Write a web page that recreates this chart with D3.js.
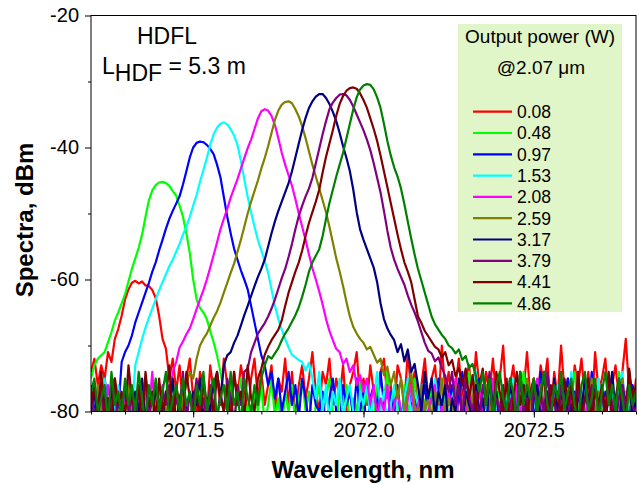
<!DOCTYPE html>
<html>
<head>
<meta charset="utf-8">
<script src="https://cdn.jsdelivr.net/npm/d3@7"></script>
<style>
  body { margin: 0; background: #fff; }
  svg { display: block; font-family: Arial, "Liberation Sans", sans-serif; }
</style>
</head>
<body>
<div id="area"></div>
<script>
const width = 639;
const height = 484;
const plot = { left: 91, right: 636, top: 15.5, bottom: 411.5 };

// wavelength grid of every spectrum: start and step, nm
const wlStart = 2071.2;
const wlStep = 0.01;

const xMajorTicks = [2071.5, 2072.0, 2072.5];
const xMinorTicks = [2071.2, 2071.3, 2071.4, 2071.5, 2071.6, 2071.7, 2071.8, 2071.9,
  2072.0, 2072.1, 2072.2, 2072.3, 2072.4, 2072.5, 2072.6, 2072.7, 2072.8];
const yMajorTicks = [-20, -40, -60, -80];
const yMinorTicks = [-30, -50, -70];

const powers = ["0.08", "0.48", "0.97", "1.53", "2.08", "2.59", "3.17", "3.79", "4.41", "4.86"];
const colors = ["#ff0000", "#00ff00", "#0000ff", "#00ffff", "#ff00ff",
  "#808000", "#000080", "#800080", "#800000", "#008000"];

// spectra, dBm, one value every 0.01 nm from 2071.20 to 2072.80
const spec008 = [
  -74, -72, -76, -73, -75, -71, -72.5, -69, -67.5, -65.5,
  -63, -61.5, -60.5, -60.2, -60.6, -60.3, -60.9, -61, -61.6, -62.8,
  -65.5, -69, -70.5, -75, -72, -77, -73, -79, -75, -72,
  -78, -80, -74, -76, -81, -73, -77, -75, -79, -72,
  -76, -80, -74, -78, -73, -76, -81, -75, -72, -78,
  -74, -79, -76, -73, -80, -75, -77, -72, -79, -74,
  -81, -76, -73, -78, -75, -71, -77, -80, -74, -76,
  -72, -79, -75, -78, -73, -80, -76, -74, -71, -78,
  -75, -79, -73, -77, -80, -74, -72, -78, -76, -81,
  -73, -75, -79, -71, -77, -74, -80, -76, -72, -78,
  -75, -73, -79, -70, -77, -74, -80, -76, -72, -78,
  -75, -73, -79, -71, -76, -80, -74, -77, -72, -78,
  -75, -70, -79, -76, -73, -80, -74, -77, -71, -78,
  -75, -79, -73, -76, -72, -80, -74, -78, -70, -77,
  -75, -79, -73, -76, -72, -78, -74, -80, -71, -77,
  -75, -72, -79, -76, -73, -78, -74, -69, -77, -80,
  -75
];
const spec048 = [
  -75, -73, -72, -71.5, -71, -69.5, -68, -66.2, -65, -63.6,
  -62.2, -60.3, -58.4, -56.8, -55.2, -53.2, -50.5, -48, -46.5, -45.7,
  -45.3, -45.2, -45.4, -45.8, -46.6, -47.3, -48.8, -50.5, -53, -56,
  -60, -63, -64.3, -65, -66, -67.8, -69.5, -71.5, -74, -77,
  -80, -76, -82, -78, -75, -81, -79, -83, -77, -80,
  -76, -82, -79, -75, -81, -78, -83, -77, -80, -76,
  -82, -78, -75, -80, -77, -83, -79, -76, -81, -78,
  -75, -80, -82, -77, -79, -76, -83, -78, -80, -75,
  -81, -77, -79, -82, -76, -80, -78, -74, -81, -77,
  -79, -83, -76, -80, -78, -75, -82, -77, -79, -81,
  -76, -78, -83, -75, -80, -77, -79, -82, -76, -81,
  -78, -74, -80, -77, -82, -79, -76, -81, -78, -75,
  -80, -83, -77, -79, -76, -81, -78, -74, -80, -82,
  -77, -79, -75, -81, -78, -83, -76, -80, -77, -79,
  -82, -76, -74, -80, -78, -81, -77, -83, -79, -75,
  -80, -78, -82, -76, -79, -74, -81, -77, -80, -78,
  -76
];
const spec097 = [
  -76, -80, -78, -82, -75, -79, -81, -77, -80, -72.5,
  -71, -70, -68.5, -66.5, -65, -63.5, -62, -60.5, -58.8, -57.4,
  -55.6, -54, -52.3, -50.8, -49.6, -48.5, -47.4, -45.6, -43.6, -41.5,
  -40, -39.3, -39.1, -39.2, -39.6, -40.2, -41, -42.6, -44.5, -47.5,
  -50.5, -53, -55.3, -57, -58.6, -60, -61.5, -64, -66.5, -69,
  -71.5, -73, -76, -74, -78, -75, -80, -77, -74, -79,
  -76, -81, -75, -78, -82, -76, -79, -80, -77, -83,
  -78, -75, -80, -82, -76, -79, -77, -81, -75, -80,
  -77, -83, -78, -76, -80, -74, -79, -82, -77, -80,
  -76, -81, -78, -75, -80, -77, -83, -79, -76, -81,
  -78, -80, -75, -82, -77, -79, -76, -81, -78, -74,
  -80, -77, -82, -79, -75, -81, -78, -80, -76, -83,
  -79, -77, -81, -75, -80, -78, -82, -76, -79, -77,
  -81, -78, -74, -80, -83, -77, -79, -76, -81, -78,
  -75, -80, -77, -82, -79, -76, -81, -74, -80, -78,
  -83, -77, -79, -76, -81, -75, -80, -78, -82, -76,
  -79
];
const spec153 = [
  -79, -76, -81, -78, -75, -82, -77, -80, -76, -83,
  -78, -75, -80, -73, -71, -69, -67.3, -65.8, -64.4, -63,
  -61.6, -60.4, -59.2, -58, -57, -55.8, -54.6, -53.2, -52, -50.5,
  -48.8, -47.2, -45.2, -43.4, -41.6, -39.6, -38, -37, -36.4, -36.2,
  -36.5, -37.2, -38.2, -39.6, -42, -44.8, -47.5, -49.8, -52, -54,
  -55.6, -57.2, -59, -61.5, -64, -66, -67.6, -69, -70.3, -71.4,
  -71.8, -72.2, -72.5, -73.8, -72.6, -75, -78, -74, -80, -76,
  -82, -77, -79, -75, -81, -78, -76, -80, -83, -77,
  -79, -76, -81, -78, -74, -80, -77, -82, -79, -76,
  -80, -83, -78, -75, -81, -77, -79, -76, -82, -78,
  -80, -75, -79, -82, -77, -81, -78, -76, -83, -79,
  -76, -80, -78, -74, -81, -77, -79, -82, -76, -80,
  -78, -83, -77, -79, -75, -81, -78, -80, -76, -82,
  -79, -77, -81, -75, -80, -78, -83, -76, -79, -77,
  -81, -74, -80, -78, -82, -76, -79, -77, -81, -75,
  -80, -78, -83, -77, -79, -76, -74, -81, -78, -80,
  -76
];
const spec208 = [
  -81, -77, -80, -78, -83, -76, -79, -82, -77, -80,
  -78, -75, -81, -79, -76, -82, -77, -80, -74, -83,
  -79, -76, -81, -78, -74, -72.5, -70.3, -69.4, -68.3, -67.4,
  -66, -64.5, -63, -61.6, -60, -58.2, -56.3, -54.4, -52.4, -50.8,
  -49.3, -47.6, -46.2, -44.8, -43.2, -41.6, -40.1, -38.8, -37.2, -35.6,
  -34.5, -34.2, -34.4, -35.2, -36.6, -38.6, -40.8, -42.6, -44.2, -45.8,
  -47.8, -50, -52, -54, -56.2, -58.3, -60, -61.8, -63.8, -66,
  -67.8, -69.2, -70.5, -71, -72.8, -72, -74, -73, -76, -74.5,
  -77, -75, -79, -76, -81, -78, -80, -76, -82, -79,
  -77, -80, -83, -78, -76, -81, -79, -77, -82, -80,
  -78, -76, -83, -79, -81, -77, -80, -75, -82, -78,
  -80, -77, -79, -83, -76, -81, -78, -80, -75, -82,
  -79, -77, -81, -78, -83, -76, -80, -79, -77, -82,
  -78, -75, -80, -82, -77, -79, -76, -81, -83, -78,
  -80, -77, -82, -75, -79, -81, -78, -76, -80, -83,
  -77, -79, -76, -81, -78, -82, -75, -80, -77, -79,
  -81
];
const spec259 = [
  -78, -82, -76, -80, -79, -83, -77, -75, -81, -78,
  -80, -76, -82, -79, -77, -81, -75, -80, -78, -83,
  -76, -79, -81, -77, -80, -77, -82, -78, -76, -74,
  -75, -72, -70, -69, -68.2, -67, -65.8, -64.8, -63.5, -62,
  -60.5, -59, -57.6, -55.8, -54, -52, -50, -48.2, -46.6, -45,
  -43.2, -41.6, -39.8, -37.8, -35.8, -34.4, -33.5, -33.1, -33, -33.3,
  -34.2, -35.3, -36.8, -38.6, -40.6, -42.6, -44.4, -46.2, -48, -49.8,
  -52, -54.4, -56.8, -58.8, -61, -63.4, -65.6, -67.2, -68.2, -69,
  -69.6, -70.6, -70.2, -71.4, -72.6, -72, -74.5, -73.2, -76, -74,
  -78, -75, -80, -77, -74, -79, -82, -76, -80, -78,
  -81, -77, -79, -75, -82, -78, -80, -76, -83, -79,
  -77, -81, -78, -75, -80, -82, -76, -79, -83, -77,
  -80, -78, -76, -81, -79, -82, -77, -80, -75, -78,
  -83, -79, -76, -81, -77, -80, -78, -82, -75, -79,
  -77, -81, -80, -76, -83, -78, -79, -75, -81, -77,
  -80, -82, -76, -79, -78, -83, -75, -80, -77, -81,
  -79
];
const spec317 = [
  -80, -77, -82, -75, -79, -81, -76, -83, -78, -80,
  -76, -79, -82, -77, -80, -75, -81, -78, -83, -76,
  -79, -81, -77, -80, -75, -82, -78, -76, -80, -83,
  -77, -79, -75, -81, -78, -80, -76, -74, -78, -73,
  -71.5, -71, -69.6, -68.5, -67, -65.4, -64, -62.5, -61, -59.6,
  -58.4, -57, -55, -53, -51.2, -49.6, -48.2, -46.8, -45.4, -43.6,
  -41.5, -39.4, -37.3, -35.5, -34, -33, -32.3, -31.9, -31.9, -32.5,
  -33.4, -34.6, -36, -37.8, -39.8, -41.6, -43.6, -46.4, -49.8, -52.4,
  -54, -55.4, -56.8, -58.2, -60.4, -63.6, -66, -67.4, -68.4, -69.2,
  -71, -69.8, -72.4, -70.6, -74, -72.8, -76, -80, -74, -78,
  -75, -81, -77, -79, -76, -83, -78, -80, -75, -82,
  -77, -79, -81, -76, -80, -78, -83, -75, -79, -77,
  -82, -78, -80, -76, -79, -81, -74, -80, -77, -83,
  -78, -76, -81, -79, -77, -82, -75, -80, -78, -76,
  -81, -79, -83, -77, -80, -75, -78, -82, -76, -79,
  -77, -81, -78, -74, -80, -83, -76, -79, -75, -81,
  -78
];
const spec379 = [
  -77, -81, -79, -76, -82, -78, -80, -75, -83, -79,
  -76, -80, -78, -82, -77, -79, -75, -81, -78, -80,
  -83, -77, -79, -76, -81, -78, -80, -74, -82, -77,
  -79, -75, -80, -78, -82, -76, -79, -81, -77, -80,
  -75, -78, -82, -76, -79, -74, -73.5, -71, -69.6, -68.2,
  -67.4, -66.6, -65.6, -64.4, -63, -61.4, -59.8, -58.4, -56.6, -54.6,
  -52.4, -50.4, -48.8, -47.4, -46.2, -44.6, -42.4, -40.2, -38, -36,
  -34.2, -33.2, -32.5, -32, -31.9, -32.1, -32.8, -33.8, -35, -36.2,
  -37.4, -38.8, -40.4, -42.4, -44.6, -46.8, -49.6, -52.6, -55.2, -57,
  -58.4, -59.6, -60.8, -62.4, -63.8, -65, -66.4, -68, -69.6, -70.8,
  -71.2, -72.4, -71.8, -73.4, -74.6, -77, -74, -79, -76, -81,
  -75, -78, -80, -77, -82, -76, -79, -74, -81, -78,
  -80, -76, -83, -79, -77, -81, -75, -80, -78, -82,
  -76, -79, -77, -81, -74, -80, -78, -83, -76, -79,
  -81, -77, -80, -75, -82, -78, -79, -76, -83, -80,
  -77, -81, -75, -79, -82, -78, -76, -80, -74, -79,
  -81
];
const spec441 = [
  -79, -76, -81, -74, -80, -78, -82, -75, -79, -77,
  -81, -73, -78, -80, -76, -82, -74, -79, -77, -81,
  -75, -80, -78, -73, -82, -76, -79, -81, -74, -78,
  -80, -76, -83, -75, -79, -77, -81, -74, -78, -80,
  -76, -82, -74, -79, -77, -81, -73, -78, -80, -75,
  -73.5, -71.4, -70.2, -69.2, -68.4, -67.6, -66.2, -64, -62, -60.4,
  -58.8, -57.4, -55.6, -53.4, -51.4, -49.8, -48.2, -46.4, -43.8, -41.4,
  -39.4, -37.4, -35.2, -33.4, -32.2, -31.4, -31, -30.9, -31.1, -31.8,
  -32.8, -34, -35.6, -37.2, -39, -41.2, -43.6, -46, -48.4, -50.8,
  -53.2, -55.4, -57.4, -58.8, -60.4, -63, -65.6, -66.6, -67.8, -68.6,
  -69.4, -70.2, -70.6, -71.8, -71, -73, -72.2, -74.6, -73.4, -76,
  -73.5, -78, -74.5, -80, -76, -73.5, -79, -75, -81, -74,
  -77, -80, -75, -82, -78, -74, -79, -76, -81, -77,
  -75, -80, -78, -74, -82, -76, -79, -77, -81, -75,
  -79, -76, -82, -74, -80, -78, -75, -81, -77, -79,
  -76, -80, -74, -82, -78, -75, -79, -81, -73.5, -78,
  -76
];
const spec486 = [
  -77, -75, -80, -78, -76, -82, -74, -79, -77, -81,
  -75, -79, -76, -80, -74, -78, -82, -76, -79, -75,
  -80, -77, -74, -81, -78, -76, -80, -75, -79, -77,
  -82, -76, -79, -74, -80, -77, -75, -81, -78, -76,
  -80, -74, -79, -77, -82, -75, -78, -80, -76, -79,
  -75, -73, -71.6, -72, -71.2, -70.4, -69.2, -68.2, -67.4, -66.4,
  -65.4, -64.2, -62.6, -60.8, -58.8, -57.4, -56.4, -55.4, -53.4, -50.8,
  -48.4, -46.4, -44.4, -42.6, -40.8, -38.6, -36.4, -34.2, -32.4, -31.2,
  -30.6, -30.4, -30.5, -31.2, -32.4, -34, -36.4, -39, -41.2, -43,
  -44.4, -46.2, -48.6, -51.2, -53.8, -56.2, -58.4, -60.2, -62, -63.8,
  -65.6, -66.8, -67.6, -68.4, -69, -70, -70.4, -71.2, -70.6, -72.2,
  -71.6, -73.4, -72.8, -74.6, -77, -74, -79, -75, -81, -76,
  -74, -78, -80, -75, -77, -82, -74, -79, -76, -78,
  -75, -80, -77, -74, -79, -81, -76, -78, -74, -80,
  -77, -75, -79, -82, -76, -74, -80, -78, -75, -81,
  -77, -74, -79, -76, -80, -75, -78, -82, -76, -79,
  -77
];

const spectra = [spec008, spec048, spec097, spec153, spec208,
  spec259, spec317, spec379, spec441, spec486];

const x = d3.scaleLinear().domain([2071.2, 2072.8]).range([plot.left, plot.right]);
const y = d3.scaleLinear().domain([-80, -20]).range([plot.bottom, plot.top]);

const svg = d3
  .select("#area")
  .append("svg")
  .attr("width", width)
  .attr("height", height);

svg.append("clipPath").attr("id", "clip")
  .append("rect")
  .attr("x", plot.left)
  .attr("y", plot.top)
  .attr("width", plot.right - plot.left)
  .attr("height", plot.bottom - plot.top);

// spectra
const line = d3
  .line()
  .x((d, i) => x(wlStart + i * wlStep))
  .y((d) => y(d));

svg.append("g")
  .attr("clip-path", "url(#clip)")
  .selectAll("path")
  .data(spectra)
  .join("path")
  .attr("fill", "none")
  .attr("stroke", (d, i) => colors[i])
  .attr("stroke-width", 2.2)
  .attr("stroke-linejoin", "round")
  .attr("d", line);

// frame
svg.append("rect")
  .attr("x", plot.left)
  .attr("y", plot.top)
  .attr("width", plot.right - plot.left)
  .attr("height", plot.bottom - plot.top)
  .attr("fill", "none")
  .attr("stroke", "#000")
  .attr("stroke-width", 1);

// x axis
svg.append("g")
  .attr("transform", `translate(0, ${plot.bottom})`)
  .call(d3.axisBottom(x).tickValues(xMinorTicks).tickSize(3).tickFormat(""))
  .call((g) => g.select(".domain").remove());

const xAxis = svg.append("g")
  .attr("transform", `translate(0, ${plot.bottom})`)
  .call(d3.axisBottom(x).tickValues(xMajorTicks).tickSize(6).tickPadding(5).tickFormat(d3.format(".1f")));
xAxis.select(".domain").remove();
xAxis.selectAll("text").attr("font-size", 20).attr("font-family", "Arial, Liberation Sans").attr("fill", "#000");

// y axis
svg.append("g")
  .attr("transform", `translate(${plot.left}, 0)`)
  .call(d3.axisLeft(y).tickValues(yMinorTicks).tickSize(3).tickFormat(""))
  .call((g) => g.select(".domain").remove());

const yAxis = svg.append("g")
  .attr("transform", `translate(${plot.left}, 0)`)
  .call(d3.axisLeft(y).tickValues(yMajorTicks).tickSize(6).tickPadding(6).tickFormat((d) => String(d)));
yAxis.select(".domain").remove();
yAxis.selectAll("text").attr("font-size", 20).attr("font-family", "Arial, Liberation Sans").attr("fill", "#000");

// axis titles
svg.append("text")
  .attr("x", 363)
  .attr("y", 478)
  .attr("text-anchor", "middle")
  .attr("font-size", 24)
  .attr("font-weight", "bold")
  .text("Wavelength, nm");

svg.append("text")
  .attr("transform", "translate(33, 220) rotate(-90)")
  .attr("text-anchor", "middle")
  .attr("font-size", 24)
  .attr("font-weight", "bold")
  .text("Spectra, dBm");

// annotation
svg.append("text")
  .attr("x", 137)
  .attr("y", 44)
  .attr("font-size", 23)
  .text("HDFL");

const lab = svg.append("text")
  .attr("x", 102)
  .attr("y", 74)
  .attr("font-size", 23);
lab.append("tspan").text("L");
lab.append("tspan").attr("dy", 7).text("HDF");
lab.append("tspan").attr("dy", -7).text(" = 5.3 m");

// legend
const legend = svg.append("g");
legend.append("rect")
  .attr("x", 458)
  .attr("y", 24)
  .attr("width", 164)
  .attr("height", 288)
  .attr("fill", "#e0f5c8");

legend.append("text")
  .attr("x", 540)
  .attr("y", 43)
  .attr("text-anchor", "middle")
  .attr("font-size", 19)
  .text("Output power (W)");

legend.append("text")
  .attr("x", 541)
  .attr("y", 74)
  .attr("text-anchor", "middle")
  .attr("font-size", 19)
  .text("@2.07 \u03bcm");

const rows = legend.selectAll("g.row")
  .data(powers)
  .join("g")
  .attr("class", "row")
  .attr("transform", (d, i) => `translate(473, ${111.7 + i * 21.3})`);

rows.append("line")
  .attr("x1", 0)
  .attr("x2", 39)
  .attr("stroke", (d, i) => colors[i])
  .attr("stroke-width", 2.2);

rows.append("text")
  .attr("x", 44)
  .attr("dy", "0.36em")
  .attr("font-size", 17.5)
  .text((d) => d);
</script>
</body>
</html>
